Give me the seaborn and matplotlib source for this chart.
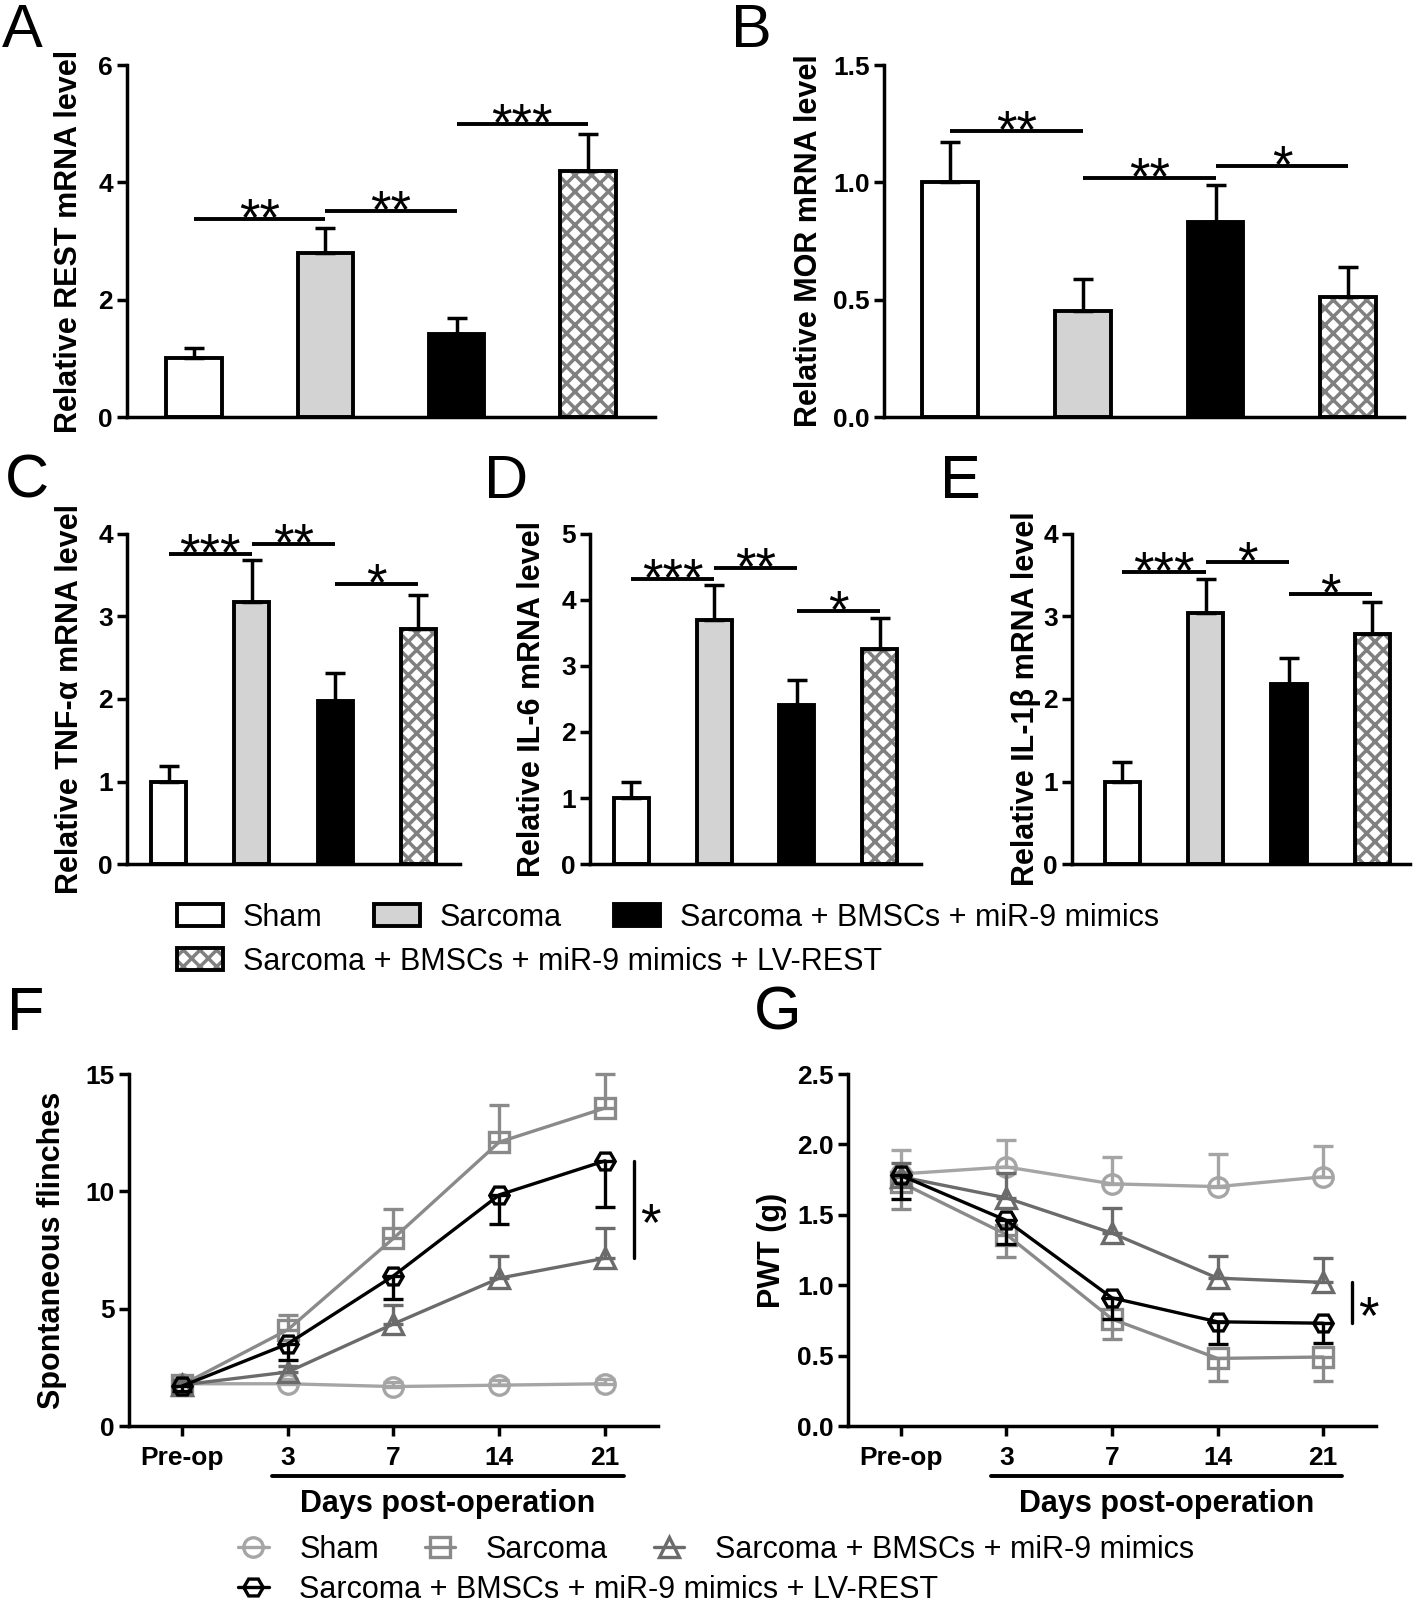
import numpy as np
import pandas as pd
import matplotlib
matplotlib.use("Agg")
import matplotlib.pyplot as plt
import matplotlib.colors as mcolors
import matplotlib.transforms as mtransforms
from matplotlib.patches import Patch
from matplotlib import font_manager as fm
import seaborn as sns

# ---- data -------------------------------------------------------------
groups = ["Sham", "Sarcoma", "Sarcoma + BMSCs + miR-9 mimics",
          "Sarcoma + BMSCs + miR-9 mimics + LV-REST"]
bar_colors = ["white", "#d3d3d3", "black", "white"]
line_colors = ["#a5a5a5", "#8a8a8a", "#6b6b6b", "black"]
line_markers = ["o", "s", "^", "H"]

# A: REST
rest_mean = [1.00, 2.80, 1.41, 4.19]
rest_err = [0.18, 0.42, 0.28, 0.63]
rest_sig = [(0, 1, 3.37, "**"), (1, 2, 3.51, "**"), (2, 3, 4.99, "***")]
# B: MOR
mor_mean = [1.00, 0.45, 0.83, 0.51]
mor_err = [0.17, 0.14, 0.16, 0.13]
mor_sig = [(0, 1, 1.22, "**"), (1, 2, 1.02, "**"), (2, 3, 1.07, "*")]
# C: TNF-a
tnf_mean = [1.00, 3.18, 1.98, 2.85]
tnf_err = [0.19, 0.51, 0.33, 0.41]
tnf_sig = [(0, 1, 3.76, "***"), (1, 2, 3.88, "**"), (2, 3, 3.39, "*")]
# D: IL-6
il6_mean = [1.00, 3.69, 2.41, 3.26]
il6_err = [0.24, 0.53, 0.38, 0.46]
il6_sig = [(0, 1, 4.32, "***"), (1, 2, 4.48, "**"), (2, 3, 3.83, "*")]
# E: IL-1b
il1b_mean = [1.00, 3.04, 2.18, 2.79]
il1b_err = [0.24, 0.41, 0.32, 0.38]
il1b_sig = [(0, 1, 3.54, "***"), (1, 2, 3.66, "*"), (2, 3, 3.27, "*")]

# F / G: time course (negative error = bar drawn downwards)
days = ["Pre-op", "3", "7", "14", "21"]
flinch_sham = [1.80, 1.80, 1.68, 1.74, 1.80]
flinch_sham_err = [0.20, 0.20, 0.20, 0.20, 0.20]
flinch_sarcoma = [1.75, 4.10, 8.00, 12.10, 13.55]
flinch_sarcoma_err = [0.20, 0.65, 1.25, 1.60, 1.45]
flinch_bmsc = [1.75, 2.30, 4.35, 6.30, 7.15]
flinch_bmsc_err = [0.20, 0.25, 0.80, 0.95, 1.27]
flinch_rest = [1.70, 3.50, 6.40, 9.85, 11.30]
flinch_rest_err = [-0.20, -0.70, -1.00, -1.25, -1.95]

pwt_sham = [1.79, 1.84, 1.72, 1.70, 1.77]
pwt_sham_err = [0.17, 0.19, 0.19, 0.23, 0.22]
pwt_sarcoma = [1.73, 1.36, 0.76, 0.48, 0.49]
pwt_sarcoma_err = [-0.19, -0.16, -0.14, -0.16, -0.17]
pwt_bmsc = [1.77, 1.62, 1.37, 1.05, 1.02]
pwt_bmsc_err = [0.10, 0.18, 0.18, 0.16, 0.17]
pwt_rest = [1.78, 1.46, 0.91, 0.74, 0.73]
pwt_rest_err = [-0.17, -0.17, -0.15, -0.16, -0.14]

# ---- style ------------------------------------------------------------
sns.set_style("ticks", rc={"axes.edgecolor": "black", "xtick.color": "black",
                           "ytick.color": "black", "text.color": "black",
                           "axes.labelcolor": "black"})
plt.rcParams["font.family"] = ["Liberation Sans", "DejaVu Sans"]
plt.rcParams["hatch.linewidth"] = 2.5

tick_font = fm.FontProperties(family="Liberation Sans", weight="bold", size=19)
legend_font = fm.FontProperties(family="Liberation Sans", size=22)

W, H = 1418, 1602
fig = plt.figure(figsize=(W / 100, H / 100), dpi=100)


def px_rect(l, t, r, b):
    return [l / W, 1 - b / H, (r - l) / W, (b - t) / H]


def gray_hatch(patch):
    patch.set_hatch("xx")
    if hasattr(patch, "set_hatchcolor"):
        patch.set_hatchcolor("#808080")
    else:
        patch._hatch_color = mcolors.to_rgba("#808080")


def style_axes(ax, ymax, step, fmt, ylabel, label_dx):
    sns.despine(ax=ax)
    ax.set_ylim(0, ymax)
    ticks = np.arange(0, ymax + step / 2, step)
    ax.set_yticks(ticks)
    ax.set_yticklabels([fmt.format(t) for t in ticks])
    for t in ax.get_yticklabels():
        t.set_fontproperties(tick_font)
    for s in ["left", "bottom"]:
        ax.spines[s].set_linewidth(2.5)
    ax.tick_params(axis="y", length=7, width=2.5, pad=3)
    ax.set_ylabel(ylabel, fontsize=22, fontweight="bold")
    width_px = ax.get_position().width * W
    ax.yaxis.set_label_coords(label_dx / width_px, 0.5)
    ax.set_facecolor("none")


def bar_panel(box, means, errs, sig, ymax, step, fmt, ylabel, xlim, label_dx):
    ax = fig.add_axes(px_rect(*box))
    sns.barplot(x=groups, y=means, hue=groups, order=groups, hue_order=groups,
                palette=bar_colors, saturation=1, width=0.42, errorbar=None,
                edgecolor="black", linewidth=2.8, legend=False, ax=ax)
    gray_hatch(ax.patches[3])
    x = np.arange(len(groups))
    ax.errorbar(x, means, yerr=[np.zeros(len(means)), errs], fmt="none",
                ecolor="black", elinewidth=2.5, capsize=7, capthick=2.5)
    for i, j, y, stars in sig:
        ax.plot([i, j], [y, y], color="black", lw=2.8, solid_capstyle="butt",
                clip_on=False)
        ax.annotate(stars, xy=((i + j) / 2, y), xytext=(0, -11.5),
                    textcoords="offset points", ha="center", va="baseline",
                    fontsize=38)
    ax.set_xlim(*xlim)
    ax.set_xticks([])
    ax.set_xlabel("")
    style_axes(ax, ymax, step, fmt, ylabel, label_dx)
    return ax


def line_panel(box, series, series_err, ymax, step, fmt, ylabel, label_dx):
    ax = fig.add_axes(px_rect(*box))
    x = np.arange(len(days))
    handles = []
    for vals, errs, col, mk in zip(series, series_err, line_colors, line_markers):
        df = pd.DataFrame({"day": x, "value": vals})
        sns.lineplot(data=df, x="day", y="value", color=col, marker=mk,
                     markersize=14, markerfacecolor="none", markeredgecolor=col,
                     markeredgewidth=2.4, linewidth=2.4, errorbar=None,
                     legend=False, ax=ax, clip_on=False)
        handles.append(ax.lines[-1])
        e = np.asarray(errs)
        ax.errorbar(x, vals, yerr=[np.where(e < 0, -e, 0), np.where(e > 0, e, 0)],
                    fmt="none", ecolor=col, elinewidth=2.4, capsize=7,
                    capthick=2.4, clip_on=False)
    # significance bar between the two treated groups at day 21
    lo, hi = series[2][-1], series[3][-1]
    ax.plot([4.27, 4.27], [lo, hi], color="black", lw=2.4, clip_on=False)
    ax.annotate("*", xy=(4.43, (lo + hi) / 2), xytext=(0, -12),
                textcoords="offset points", ha="center", va="center", fontsize=38)
    ax.set_xlim(-0.5, 4.5)
    ax.set_xticks(x)
    ax.set_xticklabels(days)
    for t in ax.get_xticklabels():
        t.set_fontproperties(tick_font)
    ax.tick_params(axis="x", length=7, width=2.5, pad=7.5)
    ax.set_xlabel("")
    style_axes(ax, ymax, step, fmt, ylabel, label_dx)
    trans = mtransforms.blended_transform_factory(ax.transData, ax.transAxes)
    ax.plot([0.85, 4.18], [-0.142, -0.142], transform=trans, color="black",
            lw=2.8, clip_on=False)
    ax.text((0.85 + 4.18) / 2, -0.178, "Days post-operation", transform=trans,
            ha="center", va="top", fontweight="bold", fontsize=22)
    return ax, handles


bar_panel((127, 65, 655, 417), rest_mean, rest_err, rest_sig, 6, 2, "{:.0f}",
          "Relative REST mRNA level", (-0.51, 3.51), -43)
bar_panel((884, 65, 1404, 417), mor_mean, mor_err, mor_sig, 1.5, 0.5, "{:.1f}",
          "Relative MOR mRNA level", (-0.5, 3.42), -60)
bar_panel((127, 534, 460, 864), tnf_mean, tnf_err, tnf_sig, 4, 1, "{:.0f}",
          "Relative TNF-α mRNA level", (-0.5, 3.5), -42)
bar_panel((590, 534, 921, 864), il6_mean, il6_err, il6_sig, 5, 1, "{:.0f}",
          "Relative IL-6 mRNA level", (-0.5, 3.5), -43)
bar_panel((1072, 534, 1410, 864), il1b_mean, il1b_err, il1b_sig, 4, 1, "{:.0f}",
          "Relative IL-1β mRNA level", (-0.6, 3.45), -31)

axF, line_handles = line_panel(
    (129, 1074, 658, 1426),
    [flinch_sham, flinch_sarcoma, flinch_bmsc, flinch_rest],
    [flinch_sham_err, flinch_sarcoma_err, flinch_bmsc_err, flinch_rest_err],
    15, 5, "{:.0f}", "Spontaneous flinches", -62)
line_panel((848, 1074, 1376, 1426),
           [pwt_sham, pwt_sarcoma, pwt_bmsc, pwt_rest],
           [pwt_sham_err, pwt_sarcoma_err, pwt_bmsc_err, pwt_rest_err],
           2.5, 0.5, "{:.1f}", "PWT (g)", -61)

# ---- legends ----------------------------------------------------------
bar_handles = []
for c in bar_colors:
    bar_handles.append(Patch(facecolor=c, edgecolor="black", linewidth=2.8))
gray_hatch(bar_handles[3])

common = dict(frameon=False, prop=legend_font, borderpad=0, borderaxespad=0,
              loc="upper left")
fig.legend(bar_handles[:3], groups[:3], ncol=3, handlelength=1.5,
           handleheight=0.72, handletextpad=0.65, columnspacing=1.7,
           bbox_to_anchor=(177 / W, 1 - 903 / H), **common)
fig.legend(bar_handles[3:], groups[3:], ncol=1, handlelength=1.5,
           handleheight=0.72, handletextpad=0.65,
           bbox_to_anchor=(177 / W, 1 - 947 / H), **common)
fig.legend(line_handles[:3], groups[:3], ncol=3, handlelength=1.0,
           handletextpad=1.0, columnspacing=1.5,
           bbox_to_anchor=(238 / W, 1 - 1535 / H), **common)
fig.legend(line_handles[3:], groups[3:], ncol=1, handlelength=1.0,
           handletextpad=1.0,
           bbox_to_anchor=(238 / W, 1 - 1575 / H), **common)

# ---- panel letters ----------------------------------------------------
for letter, x, y in [("A", 2, 47), ("B", 731, 47), ("C", 5, 498), ("D", 484, 498),
                     ("E", 940, 498), ("F", 7, 1030), ("G", 754, 1030)]:
    fig.text(x / W, 1 - y / H, letter, fontsize=44, va="baseline", ha="left")

fig.savefig("out.png", dpi=100, facecolor="white")
